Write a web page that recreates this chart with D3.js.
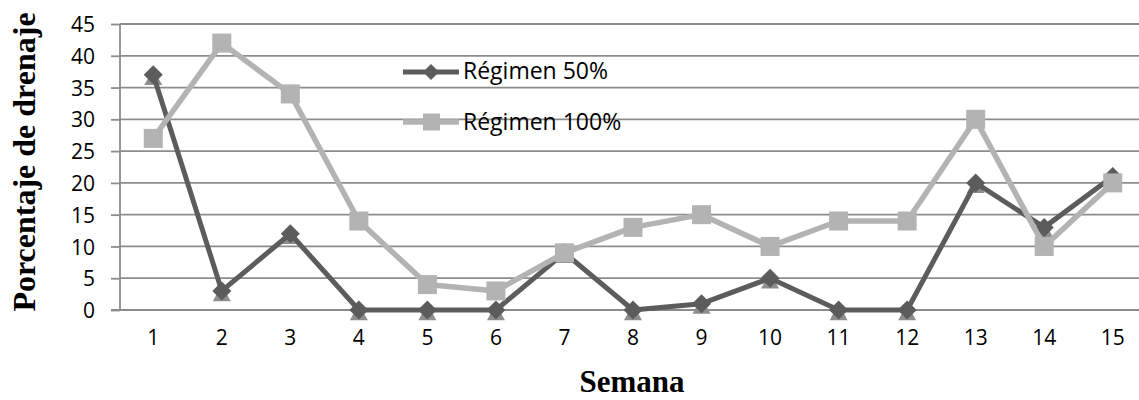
<!DOCTYPE html>
<html><head><meta charset="utf-8">
<script src="https://cdn.jsdelivr.net/npm/d3@7"></script>
<style>html,body{margin:0;padding:0;background:#fff;overflow:hidden}</style>
</head><body>
<svg id="c" width="1139" height="400"></svg>
<script>
const weeks = ["1","2","3","4","5","6","7","8","9","10","11","12","13","14","15"];
const regimen50 = [37, 3, 12, 0, 0, 0, 9, 0, 1, 5, 0, 0, 20, 13, 21];
const regimen100 = [27, 42, 34, 14, 4, 3, 9, 13, 15, 10, 14, 14, 30, 10, 20];
const yTicks = [0, 5, 10, 15, 20, 25, 30, 35, 40, 45];
const seriesNames = ["Régimen 50%", "Régimen 100%"];
const yTitle = "Porcentaje de drenaje";
const xTitle = "Semana";

const svg = d3.select("#c");
const x = d3.scaleBand().domain(weeks).range([119, 1147]).padding(0);
const cx = d => x(d) + x.bandwidth() / 2;
const y = d3.scaleLinear().domain([0, 45]).range([310, 24]);

const dark = "#5c5c5c", light = "#b3b3b3", shadow = "#8e8e8e", grid = "#8c8c8c";
const tickFont = "'Open Sans', sans-serif";

// gridlines
svg.append("g").selectAll("line").data(yTicks.filter(t => t > 0)).join("line")
  .attr("x1", 120).attr("x2", 1139).attr("y1", d => y(d)).attr("y2", d => y(d))
  .attr("stroke", grid).attr("stroke-width", 1.8);

// y axis
const yAxis = d3.axisLeft(y).tickValues(yTicks).tickSize(9).tickPadding(16).tickFormat(d3.format("d"));
const ga = svg.append("g").attr("transform", "translate(120,0)").call(yAxis);
ga.select(".domain").attr("stroke", grid).attr("stroke-width", 1.8).attr("d", `M0,${y(0)}V${y(45)}`);
ga.selectAll(".tick line").attr("stroke", grid).attr("stroke-width", 1.8);
ga.selectAll(".tick text").attr("font-family", tickFont).attr("font-size", 21).attr("fill", "#000").attr("dy", "0.36em");

// x axis
const xAxis = d3.axisBottom(x).tickSize(0).tickPadding(20);
const gx = svg.append("g").attr("transform", `translate(0,${y(0)})`).call(xAxis);
gx.select(".domain").attr("stroke", grid).attr("stroke-width", 1.8).attr("d", `M111,0H1139`);
gx.selectAll(".tick text").attr("font-family", tickFont).attr("font-size", 21).attr("fill", "#000").attr("dy", "0.72em");

// titles
svg.append("text").attr("transform", "translate(35,162) rotate(-90)").attr("text-anchor", "middle")
  .attr("font-family", "'Liberation Serif', 'Times New Roman', serif").attr("font-weight", "bold")
  .attr("font-size", 32).attr("fill", "#000").text(yTitle);
svg.append("text").attr("x", 632).attr("y", 392).attr("text-anchor", "middle")
  .attr("font-family", "'Liberation Serif', 'Times New Roman', serif").attr("font-weight", "bold")
  .attr("font-size", 31).attr("fill", "#000").text(xTitle);

const line = d3.line().x((d, i) => cx(weeks[i])).y(d => y(d));
const diamond = s => `M0,${-s}L${s},0L0,${s}L${-s},0Z`;
const tri = s => `M0,${-s}L${s},${s * 0.8}L${-s},${s * 0.8}Z`;

// series 50%
svg.append("g").selectAll("path").data(regimen50).join("path")
  .attr("transform", (d, i) => `translate(${cx(weeks[i])},${y(d) + 3})`)
  .attr("d", tri(9)).attr("fill", shadow);
svg.append("path").datum(regimen50).attr("d", line).attr("fill", "none")
  .attr("stroke", dark).attr("stroke-width", 5).attr("stroke-linejoin", "round");
svg.append("g").selectAll("path").data(regimen50).join("path")
  .attr("transform", (d, i) => `translate(${cx(weeks[i])},${y(d)})`)
  .attr("d", diamond(9.5)).attr("fill", dark);

// series 100%
svg.append("path").datum(regimen100).attr("d", line).attr("fill", "none")
  .attr("stroke", light).attr("stroke-width", 5.5).attr("stroke-linejoin", "round");
svg.append("g").selectAll("rect").data(regimen100).join("rect")
  .attr("x", (d, i) => cx(weeks[i]) - 9.5).attr("y", d => y(d) - 9.5)
  .attr("width", 19).attr("height", 19).attr("fill", light);

// legend
const leg = [{name: seriesNames[0], color: dark, ly: 72, ty: 79, mark: "d"},
             {name: seriesNames[1], color: light, ly: 122, ty: 130, mark: "s"}];
const lg = svg.append("g");
leg.forEach(l => {
  lg.append("line").attr("x1", 403).attr("x2", 459).attr("y1", l.ly).attr("y2", l.ly)
    .attr("stroke", l.color).attr("stroke-width", l.mark === "d" ? 5 : 5.5);
  if (l.mark === "d") lg.append("path").attr("transform", `translate(431,${l.ly})`).attr("d", diamond(8)).attr("fill", l.color);
  else lg.append("rect").attr("x", 423).attr("y", l.ly - 8.5).attr("width", 17).attr("height", 17).attr("fill", l.color);
  lg.append("text").attr("x", 463).attr("y", l.ty).attr("font-family", tickFont).attr("font-size", 23)
    .attr("fill", "#000").text(l.name);
});
</script>
</body></html>
